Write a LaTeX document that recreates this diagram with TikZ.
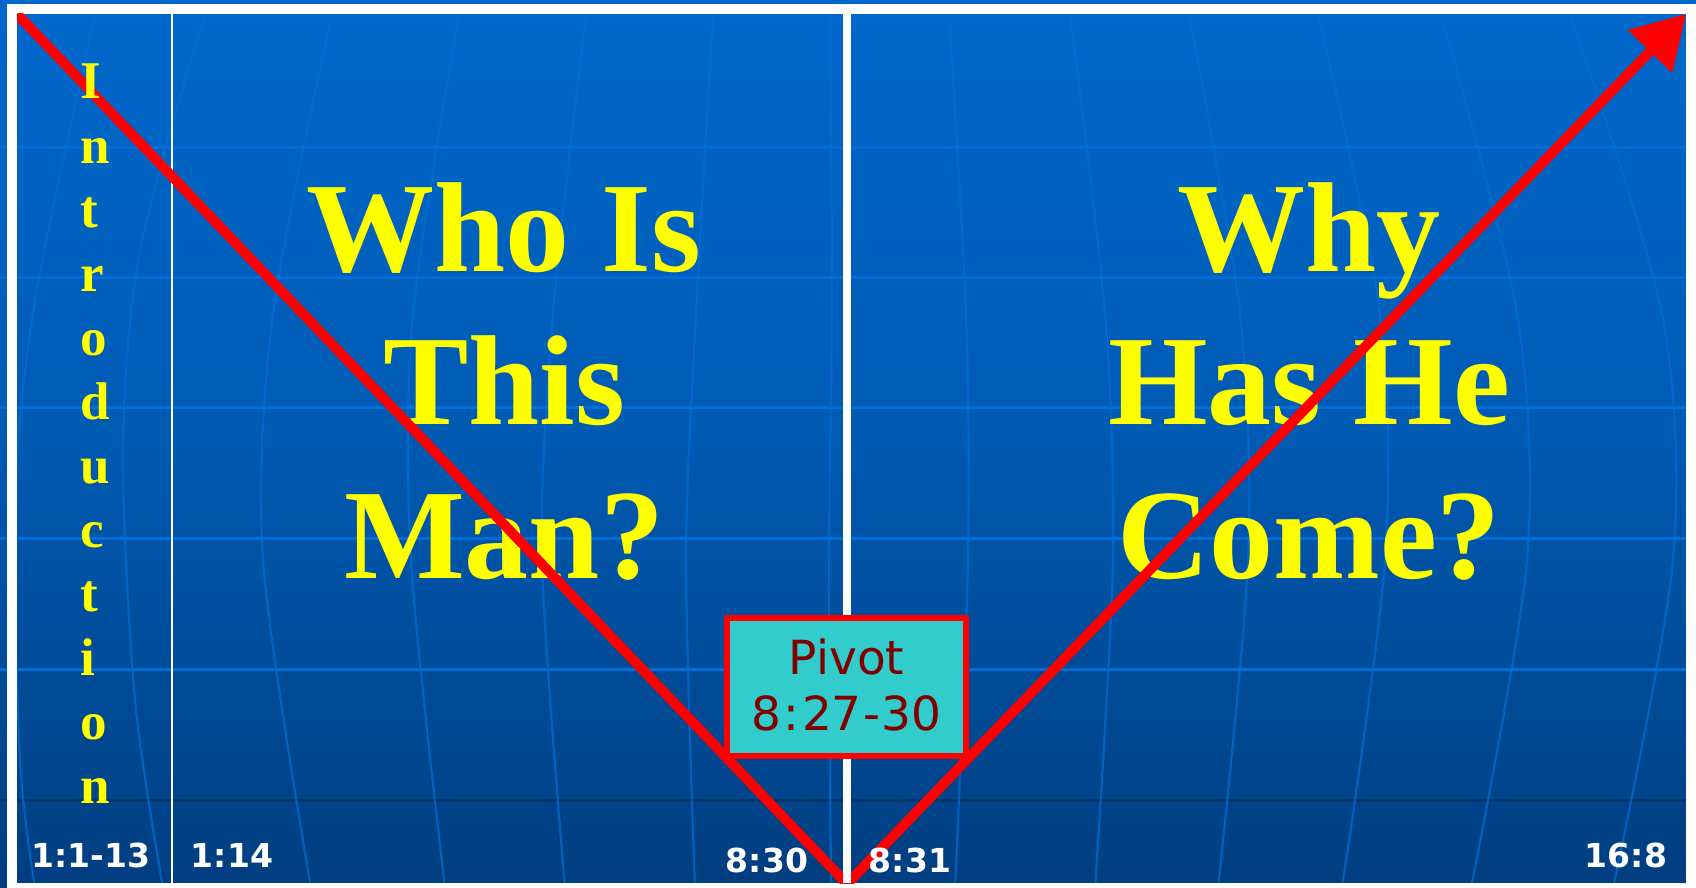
\documentclass[tikz,border=0pt]{standalone}
\usepackage{fontspec}
\setmainfont{Liberation Serif}
\newfontfamily\dejavu{DejaVu Sans}
\usetikzlibrary{arrows.meta}
\definecolor{bgtop}{RGB}{0,104,204}
\definecolor{bgmid}{RGB}{0,90,178}
\definecolor{bgbot}{RGB}{0,62,128}
\definecolor{gridc}{RGB}{0,110,214}
\definecolor{darkgrid}{RGB}{0,54,108}
\definecolor{pivotfill}{RGB}{51,204,204}
\definecolor{pivottext}{RGB}{128,0,0}
\definecolor{titleyellow}{RGB}{255,255,0}
\begin{document}
\begin{tikzpicture}[x=1pt,y=-1pt,
  gridline/.style={draw=gridc, line width=3pt},
  meridian/.style={draw=gridc, line width=2.2pt, opacity=0.7},
  darkline/.style={draw=darkgrid, line width=3pt},
  bigtitle/.style={text=titleyellow, font=\bfseries\fontsize{128}{154}\selectfont, inner sep=0pt, anchor=base},
  introletter/.style={text=titleyellow, font=\bfseries\fontsize{53}{64}\selectfont, inner sep=0pt, anchor=base west},
  reflabel/.style={text=white, font=\dejavu\bfseries\fontsize{33}{40}\selectfont, inner sep=0pt, anchor=base},
  redline/.style={draw=red, line width=10pt},
  pivotbox/.style={draw=red, line width=6pt, fill=pivotfill, minimum width=239pt, minimum height=138pt, inner sep=0pt},
  pivottxt/.style={text=pivottext, font=\dejavu\fontsize{47}{56}\selectfont, inner sep=0pt, anchor=base}
]
\useasboundingbox (0,0) rectangle (1696,888);
% background gradient
\foreach \k in {0,...,44}{
  \pgfmathtruncatemacro\p{100-\k*100/44}
  \fill[bgtop!\p!bgmid] (0,{10*\k}) rectangle (1696,{10*\k+11});
}
\foreach \k in {45,...,88}{
  \pgfmathtruncatemacro\p{100-(\k-44)*100/44}
  \fill[bgmid!\p!bgbot] (0,{10*\k}) rectangle (1696,{10*\k+11});
}
% grid
\foreach \yy in {147,277,407,538,669}{
  \draw[gridline] (0,\yy) -- (1696,\yy);
}
\draw[darkline] (0,800) -- (1696,800);
% meridians
\draw[meridian] plot[smooth] coordinates {(95,14) (35,300) (15,500) (20,760) (35,888)};
\draw[meridian] plot[smooth] coordinates {(205,14) (140,250) (123,450) (135,700) (163,888)};
\draw[meridian] plot[smooth] coordinates {(332,14) (273,314) (263,560) (311,888)};
\draw[meridian] plot[smooth] coordinates {(459,14) (413,314) (411,560) (445,888)};
\draw[meridian] plot[smooth] coordinates {(586,14) (553,314) (542,560) (565,888)};
\draw[meridian] plot[smooth] coordinates {(713,14) (696,314) (686,560) (695,888)};
\draw[meridian] plot[smooth] coordinates {(830,14) (832,314) (829,560) (831,888)};
\draw[meridian] plot[smooth] coordinates {(949,14) (966,314) (968,560) (955,888)};
\draw[meridian] plot[smooth] coordinates {(1070,14) (1105,314) (1113,560) (1095,888)};
\draw[meridian] plot[smooth] coordinates {(1189,14) (1240,314) (1248,560) (1218,888)};
\draw[meridian] plot[smooth] coordinates {(1318,14) (1380,314) (1385,560) (1342,888)};
\draw[meridian] plot[smooth] coordinates {(1441,14) (1517,314) (1527,560) (1471,888)};
\draw[meridian] plot[smooth] coordinates {(1570,14) (1662,314) (1673,560) (1613,888)};
% frame
\draw[white, line width=10pt] (12,9) rectangle (1691,888);
% thin divider
\coordinate (thinTop) at (172,14);
\coordinate (thinBot) at (172,883);
\draw[white, line width=2pt] (thinTop) -- (thinBot);
% titles
\node[bigtitle] (who1) at (504,271) {Who Is};
\node[bigtitle] (who2) at (504,424) {This};
\node[bigtitle] (who3) at (504,578) {Man?};
\node[bigtitle] (why1) at (1309,271) {Why};
\node[bigtitle] (why2) at (1309,424) {Has He};
\node[bigtitle] (why3) at (1309,578) {Come?};
% red V
\coordinate (vtl) at (17,14);
\coordinate (vbot) at (847,884);
\coordinate (vtr) at (1686,14);
\begin{scope}
  \clip (17,14) rectangle (1686,883);
  \draw[redline] (vtl) -- (vbot);
  \draw[redline, -{Triangle[length=52pt,width=59pt]}] (vbot) -- (vtr);
\end{scope}
% Introduction letters (above the red line)
\foreach \ch [count=\i from 0] in {I,n,t,r,o,d,u,c,t,i,o,n}{
  \node[introletter] (intro\i) at (80,{99+64*\i}) {\ch};
}
% center divider
\coordinate (midTop) at (847,14);
\coordinate (midBot) at (847,883);
\draw[white, line width=8pt] (midTop) -- (midBot);
% pivot
\node[pivotbox] (pivot) at (846.5,687) {};
\node[pivottxt] (pivotA) at (846.5,674) {Pivot};
\node[pivottxt] (pivotB) at (846.5,730) {8\kern2.5pt:\kern2.5pt27\kern1.5pt-\kern1.5pt30};
% reference labels
\node[reflabel] (lab1) at (91,867) {1:1-13};
\node[reflabel] (lab2) at (232,867) {1:14};
\node[reflabel] (lab3) at (767,872) {8:30};
\node[reflabel] (lab4) at (910,872) {8:31};
\node[reflabel] (lab5) at (1626,867) {16:8};
\end{tikzpicture}
\end{document}
